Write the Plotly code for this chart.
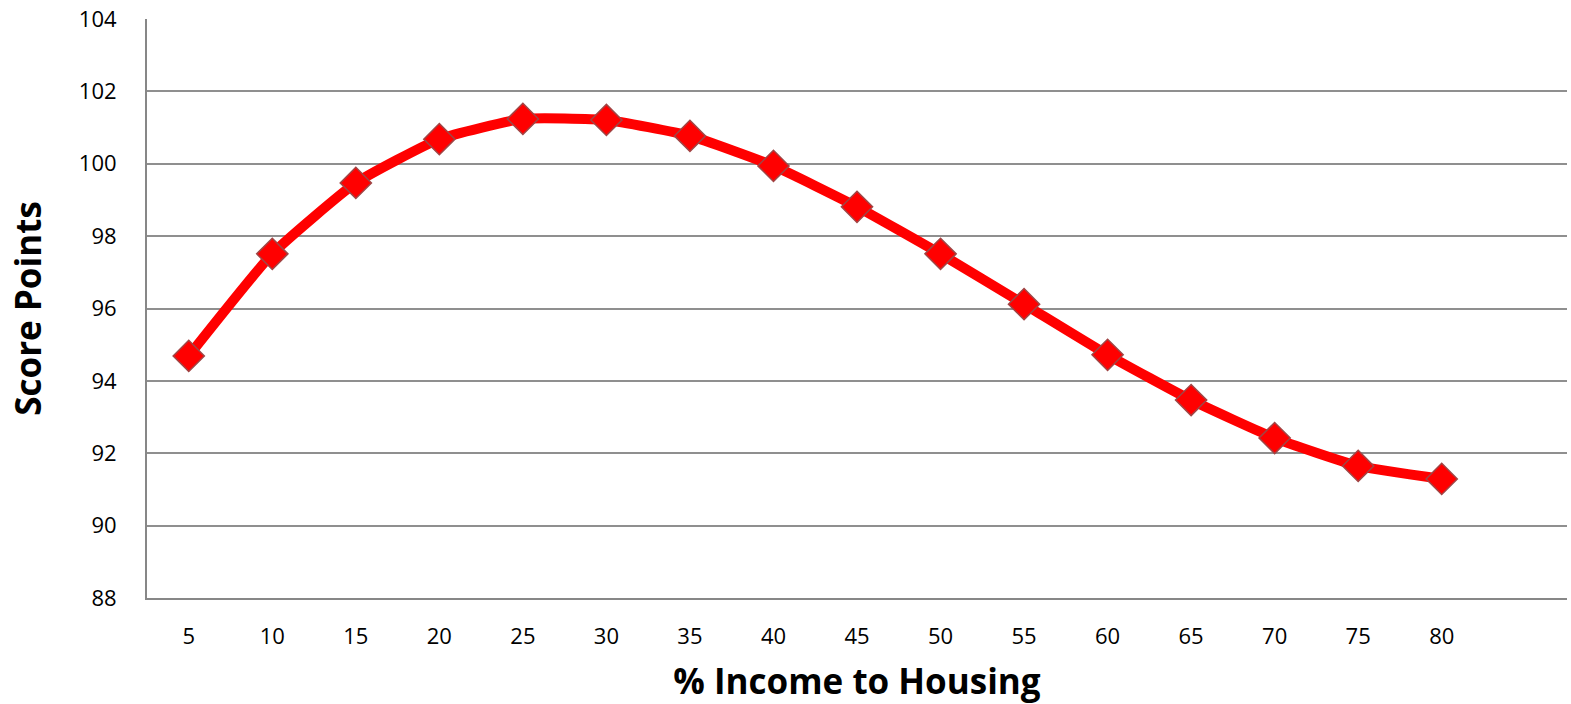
import plotly.graph_objects as go

income_pct = [5, 10, 15, 20, 25, 30, 35, 40, 45, 50, 55, 60, 65, 70, 75, 80]
score_points = [94.69, 97.51, 99.47, 100.68, 101.24, 101.21, 100.77, 99.94,
                98.81, 97.51, 96.12, 94.72, 93.47, 92.42, 91.65, 91.29]
y_ticks = [88, 90, 92, 94, 96, 98, 100, 102, 104]

FONT = "Open Sans"

fig = go.Figure()
fig.add_trace(go.Scatter(
    x=income_pct, y=score_points, mode="lines+markers",
    line=dict(color="#FF0000", width=10, shape="spline", smoothing=0.45),
    marker=dict(symbol="diamond", size=24, color="#FF0000",
                line=dict(color="#A04545", width=1.5)),
    showlegend=False,
))

fig.update_layout(
    width=1571, height=704,
    margin=dict(l=147, r=4, t=19, b=106),
    paper_bgcolor="white", plot_bgcolor="white",
    font=dict(family=FONT, color="black", size=22),
)
fig.update_xaxes(
    range=[2.5, 87.5], tickvals=income_pct, ticktext=[str(v) for v in income_pct],
    showgrid=False, zeroline=False,
    showline=True, linecolor="#878787", linewidth=2,
    ticks="outside", ticklen=18, tickcolor="rgba(0,0,0,0)",
    tickfont=dict(family=FONT, size=22),
    title=dict(text="<b>% Income to Housing</b>", font=dict(family=FONT, size=35), standoff=22),
    automargin=False,
)
fig.update_yaxes(
    range=[88, 104], tickvals=y_ticks,
    showgrid=True, gridcolor="#8F8F8F", gridwidth=1.5, zeroline=False,
    showline=True, linecolor="#878787", linewidth=2,
    ticks="outside", ticklen=24, tickcolor="rgba(0,0,0,0)",
    tickfont=dict(family=FONT, size=22),
    title=dict(text="<b>Score Points</b>", font=dict(family=FONT, size=35), standoff=27),
    automargin=False,
)

fig.write_html("out.html", config={"displayModeBar": False},
               post_script="document.body.style.margin='0';document.body.style.overflow='hidden';")
